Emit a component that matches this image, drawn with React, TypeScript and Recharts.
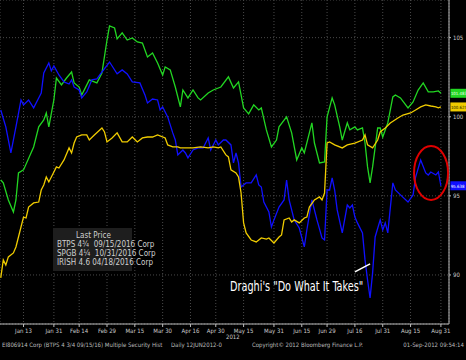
import {
  LineChart,
  Line,
  XAxis,
  YAxis,
  CartesianGrid,
  ReferenceLine,
  ReferenceDot,
} from "recharts";

// x = trading day index from 02 Jan 2012
const tickDays = [9, 21, 31, 42, 53, 64, 75, 85, 96, 108, 119, 129, 140, 151, 162, 174];
const tickLabels = [
  "Jan 13", "Jan 31", "Feb 14", "Feb 29", "Mar 15", "Mar 30", "Apr 16", "Apr 30",
  "May 15", "May 31", "Jun 15", "Jun 29", "Jul 16", "Jul 31", "Aug 15", "Aug 31",
];
const priceTicks = [90, 95, 100, 105];

const btpsDays = [
  0, 1, 3, 5, 6, 7, 9, 13, 15, 17, 18, 19, 21, 22, 24, 26, 28, 29, 31, 32, 35, 38, 40, 42, 43,
  45, 46, 48, 50, 52, 54, 56, 58, 60, 62, 64, 65, 67, 69, 71, 72, 74, 76, 78, 79, 82, 84, 87,
  90, 92, 94, 96, 98, 100, 102, 103, 105, 107, 109, 110, 113, 115, 117, 119, 120, 123, 124,
  126, 128, 129, 131, 132, 134, 135, 137, 138, 140, 141, 143, 144, 145, 146, 147, 149, 150,
  151, 153, 155, 156, 158, 161, 163, 165, 167, 169, 171, 173, 174,
];
const btpsValues = [
  96.0, 95.82, 94.74, 93.98, 94.74, 96.45, 96.64, 98.09, 99.36, 99.8, 100.24, 99.36, 101.06,
  102.45, 102.01, 102.45, 102.83, 102.14, 101.88, 101.38, 102.33, 102.14, 102.77, 104.85,
  105.74, 105.61, 104.92, 105.3, 104.85, 104.98, 104.73, 104.66, 103.78, 104.03, 103.4,
  102.64, 103.15, 102.96, 101.88, 100.62, 101.69, 101.19, 101.69, 101.19, 101.06, 101.5,
  101.69, 101.88, 102.52, 101.82, 102.2, 100.56, 100.18, 100.75, 100.43, 100.56, 99.17,
  98.09, 98.53, 99.36, 99.99, 98.98, 97.27, 98.03, 97.71, 99.61, 98.34, 97.08, 97.14, 99.99,
  101.19, 100.75, 99.36, 98.53, 99.61, 99.17, 99.36, 99.17, 99.29, 98.34, 96.83, 95.82,
  96.83, 99.29, 99.29, 98.72, 99.61, 101.25, 101.38, 101.19, 100.56, 100.94, 101.69, 102.14,
  101.57, 101.57, 101.63, 101.483,
];

const spgbDays = [
  0, 2, 4, 6, 8, 9, 11, 13, 15, 16, 17, 19, 20, 21, 23, 25, 27, 28, 29, 31, 32, 34, 36, 38,
  40, 43, 46, 48, 50, 52, 55, 57, 58, 60, 62, 63, 64, 66, 68, 69, 70, 72, 73, 74, 76, 78, 80,
  82, 83, 85, 86, 88, 89, 91, 92, 93, 94, 95, 97, 99, 101, 102, 103, 104, 106, 107, 108, 110,
  112, 113, 114, 116, 118, 120, 121, 123, 125, 127, 128, 129, 130, 131, 132, 133, 135, 137,
  138, 139, 140, 141, 143, 144, 145, 146, 147, 148, 150, 151, 152, 153, 155, 156, 158, 161,
  163, 164, 166, 168, 169, 170, 172, 173, 174,
];
const spgbValues = [
  100.43, 99.36, 97.71, 99.36, 101.06, 100.75, 101.06, 100.56, 101.19, 101.5, 102.77, 103.4,
  102.9, 103.21, 102.64, 102.2, 102.07, 102.33, 101.88, 101.69, 101.19, 101.57, 102.33,
  102.39, 102.83, 103.46, 102.71, 102.96, 102.71, 102.2, 102.14, 101.38, 100.87, 101.12,
  101.06, 100.43, 100.62, 99.99, 98.98, 98.53, 97.59, 97.9, 97.71, 97.4, 97.9, 98.03, 98.03,
  98.66, 97.9, 98.53, 98.22, 98.53, 98.53, 98.22, 97.08, 97.71, 97.08, 95.56, 95.82, 95.82,
  96.32, 95.69, 95.56, 94.61, 93.98, 93.03, 93.48, 94.29, 94.74, 96.0, 94.74, 93.48, 92.97,
  91.77, 92.84, 94.74, 93.48, 92.34, 92.21, 95.37, 95.37, 96.13, 95.37, 94.11, 92.66, 94.42,
  94.23, 94.42, 93.66, 93.29, 92.66, 90.95, 89.68, 88.55, 90.13, 92.4, 93.48, 92.84, 93.29,
  92.66, 95.82, 95.37, 95.06, 94.61, 95.06, 96.19, 97.27, 96.45, 96.32, 96.51, 96.32, 96.51,
  95.638,
];

const irishDays = [
  0, 1, 2, 3, 5, 6, 8, 9, 10, 11, 13, 15, 16, 17, 18, 19, 21, 22, 23, 25, 27, 28, 29, 30, 32,
  34, 35, 37, 40, 41, 42, 44, 46, 48, 50, 52, 54, 56, 58, 60, 62, 65, 66, 68, 70, 71, 74, 76,
  79, 82, 84, 86, 87, 89, 90, 91, 93, 94, 95, 96, 97, 99, 101, 103, 105, 106, 108, 110, 111,
  112, 114, 115, 116, 118, 120, 121, 122, 124, 126, 127, 128, 129, 130, 132, 135, 137, 140,
  143, 144, 145, 147, 149, 150, 152, 154, 157, 159, 162, 164, 166, 168, 170, 172, 173, 174,
];
const irishValues = [
  89.81, 90.95, 90.63, 91.14, 91.39, 91.77, 93.03, 93.66, 93.6, 94.29, 94.55, 94.61, 95.37,
  95.69, 96.19, 95.88, 96.51, 96.83, 96.76, 97.27, 98.03, 97.71, 98.34, 98.72, 98.85, 98.85,
  98.53, 98.85, 99.29, 99.04, 98.41, 98.66, 98.98, 98.41, 98.41, 98.72, 98.41, 98.66, 98.72,
  98.72, 98.85, 98.66, 98.22, 98.09, 98.09, 98.03, 98.03, 98.03, 98.09, 98.03, 98.09, 98.03,
  98.09, 97.59, 97.46, 96.64, 96.45, 96.19, 95.18, 93.29, 92.66, 92.21, 92.09, 92.34, 92.27,
  92.34, 92.02, 92.4, 92.53, 93.48, 93.6, 93.35, 93.48, 93.29, 93.6, 93.66, 94.29, 94.74,
  94.93, 94.74, 95.18, 98.34, 98.41, 98.22, 98.03, 98.22, 98.34, 98.53, 98.85, 98.22, 98.03,
  98.53, 99.04, 99.29, 99.61, 99.92, 100.11, 100.24, 100.43, 100.62, 100.75, 100.68, 100.62,
  100.56, 100.62,
];

const toRows = (days: number[], values: number[]) =>
  days.map((day, i) => ({ day, v: values[i] }));

const btps = toRows(btpsDays, btpsValues);
const spgb = toRows(spgbDays, spgbValues);
const irish = toRows(irishDays, irishValues);

const GREEN = "#22d622";
const BLUE = "#1010ff";
const YELLOW = "#f0cc00";
const NARROW = "'Liberation Sans Narrow', 'DejaVu Sans Condensed', 'Arial Narrow', sans-serif";

// last-price boxes hugging the right edge
function lastLabel(text: string, bg: string, fg: string) {
  return (props: any) => (
    <g>
      <rect x={props.cx + 9.5} y={props.cy - 4.5} width={17} height={9} fill={bg} />
      <text x={props.cx + 10} y={props.cy + 1.8} fontSize={4.3} fill={fg} fontFamily={NARROW}>
        {text}
      </text>
    </g>
  );
}

function redCircle(props: any) {
  return (
    <ellipse cx={props.cx} cy={props.cy} rx={17} ry={27} fill="none" stroke="#e00000" strokeWidth={2} />
  );
}

export default function App() {
  return (
    <div
      style={{
        position: "fixed",
        left: 0,
        top: 0,
        width: 466,
        height: 360,
        background: "#000",
        overflow: "hidden",
        fontFamily: NARROW,
      }}
    >
      <LineChart
        width={466}
        height={360}
        margin={{ top: 0, right: 0, left: 0, bottom: 0 }}
      >
        <CartesianGrid stroke="#4a4a4a" strokeDasharray="1 2" />
        <XAxis
          type="number"
          dataKey="day"
          domain={[-0.3, 177.2]}
          ticks={tickDays}
          tickFormatter={(d: number) => tickLabels[tickDays.indexOf(d)] ?? ""}
          interval={0}
          allowDataOverflow
          height={36}
          stroke="#bbbbbb"
          tick={{ fontSize: 6, fill: "#cccccc", fontFamily: NARROW }}
          tickSize={3}
        />
        <YAxis
          orientation="right"
          domain={[86.9, 107.38]}
          ticks={priceTicks}
          allowDataOverflow
          width={17}
          stroke="#bbbbbb"
          tick={{ fontSize: 6, fill: "#cccccc", fontFamily: NARROW }}
          tickSize={2}
        />
        <Line data={btps} dataKey="v" stroke={GREEN} strokeWidth={1.3} dot={false} activeDot={false} isAnimationActive={false} />
        <Line data={spgb} dataKey="v" stroke={BLUE} strokeWidth={1.3} dot={false} activeDot={false} isAnimationActive={false} />
        <Line data={irish} dataKey="v" stroke={YELLOW} strokeWidth={1.3} dot={false} activeDot={false} isAnimationActive={false} />
        <ReferenceLine
          segment={[
            { x: 140, y: 90.19 },
            { x: 146, y: 90.7 },
          ]}
          stroke="#ffffff"
          strokeWidth={1.5}
        />
        <ReferenceDot x={170.1} y={96.45} r={1} ifOverflow="visible" shape={redCircle} />
        <ReferenceDot x={174} y={101.483} r={1} ifOverflow="visible" shape={lastLabel("101.483", GREEN, "#eaffea")} />
        <ReferenceDot x={174} y={100.62} r={1} ifOverflow="visible" shape={lastLabel("100.625", YELLOW, "#222200")} />
        <ReferenceDot x={174} y={95.638} r={1} ifOverflow="visible" shape={lastLabel("95.638", BLUE, "#ffffff")} />
      </LineChart>

      <div
        style={{
          position: "absolute",
          left: 53,
          top: 228,
          width: 79,
          height: 43,
          background: "#1e1e1e",
          color: "#d0d0d0",
          fontSize: 8,
          lineHeight: "9px",
          padding: "3px 0 0 2px",
          boxSizing: "border-box",
        }}
      >
        <div style={{ textAlign: "center" }}>Last Price</div>
        {[
          ["BTPS 4¾  09/15/2016 Corp", GREEN],
          ["SPGB 4¼  10/31/2016 Corp", BLUE],
          ["IRISH 4.6 04/18/2016 Corp", YELLOW],
        ].map(([label, c]) => (
          <div key={label} style={{ display: "flex", alignItems: "center", whiteSpace: "pre" }}>
            <span style={{ width: 5, height: 5, background: c, marginRight: 2, display: "inline-block" }} />
            {label}
          </div>
        ))}
      </div>

      <div
        style={{
          position: "absolute",
          left: 230,
          top: 278,
          color: "#ffffff",
          fontSize: 14,
          whiteSpace: "nowrap",
          transform: "scaleX(0.77)",
          transformOrigin: "left top",
        }}
      >
        Draghi's "Do What It Takes"
      </div>

      <div style={{ position: "absolute", left: 226, top: 333, fontSize: 6, color: "#cccccc" }}>2012</div>
      <div
        style={{
          position: "absolute",
          left: 2,
          top: 341,
          width: 462,
          fontSize: 6,
          color: "#bbbbbb",
          whiteSpace: "pre",
        }}
      >
        <span>EI806914 Corp (BTPS 4 3/4 09/15/16) Multiple Security Hist     Daily 12JUN2012-0</span>
        <span style={{ position: "absolute", left: 250 }}>Copyright© 2012 Bloomberg Finance L.P.</span>
        <span style={{ position: "absolute", right: 0 }}>01-Sep-2012 09:54:14</span>
      </div>
    </div>
  );
}
